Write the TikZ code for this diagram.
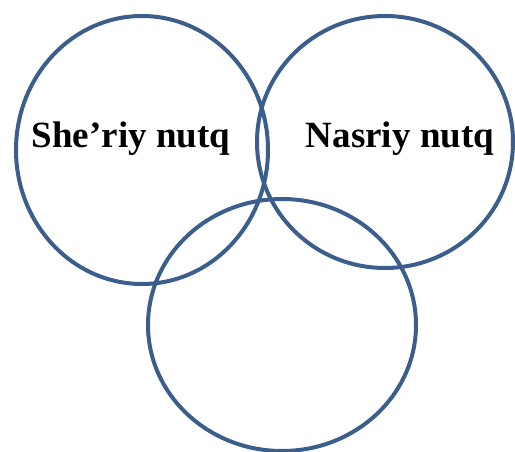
\documentclass[tikz,border=0pt]{standalone}
\usepackage{fontspec}
\setmainfont{Liberation Serif}
\usepackage{xcolor}
\definecolor{ringblue}{RGB}{59,94,140}

\begin{document}
\begin{tikzpicture}[x=1pt, y=-1pt,
    ring/.style={ringblue, line width=4pt},
    label/.style={anchor=base, font=\fontsize{37}{42}\selectfont\bfseries}]
  \useasboundingbox (0,0) rectangle (515,452);
  % Three overlapping rings
  \draw[ring] (142,150) ellipse (126 and 134);
  \draw[ring] (385,142) ellipse (128 and 126);
  \draw[ring] (282,325) ellipse (134 and 126);
  % Labels
  \node[label] (poetic) at (131,147) {She’riy nutq};
  \node[label] (prose) at (400,147) {Nasriy nutq};
\end{tikzpicture}
\end{document}
